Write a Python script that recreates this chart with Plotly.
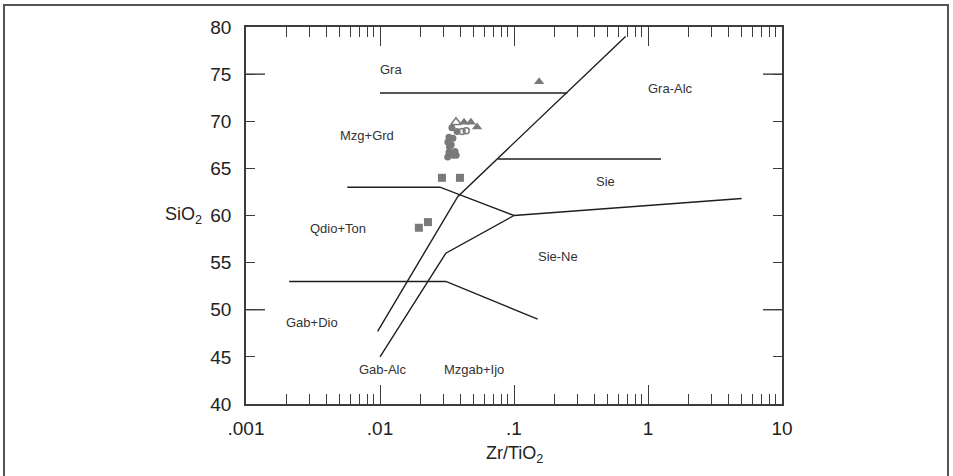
import plotly.graph_objects as go
import math

# ---- data ----
circle_x = [0.0344, 0.0376, 0.0327, 0.0350, 0.0321, 0.0330, 0.0327, 0.0363, 0.0350, 0.0370, 0.0320, 0.0340]
circle_y = [69.3, 68.9, 68.3, 68.2, 67.8, 67.3, 66.7, 66.8, 66.4, 66.4, 66.2, 67.5]
open_circle_x = [0.041, 0.044]
open_circle_y = [68.9, 69.0]
triangle_x = [0.0424, 0.0477, 0.053, 0.154]
triangle_y = [69.9, 69.9, 69.4, 74.2]
open_triangle_x = [0.0369]
open_triangle_y = [69.9]
square_x = [0.029, 0.0395, 0.0195, 0.0228]
square_y = [64.0, 64.0, 58.7, 59.3]

# field boundaries
gra_x = [0.01, 0.25]; gra_y = [73, 73]
main_x = [0.0096, 0.038, 0.68]; main_y = [47.7, 62, 79]
sie_x = [0.076, 1.25]; sie_y = [66, 66]
qdio_x = [0.0057, 0.028, 0.1, 5.0]; qdio_y = [63, 63, 60, 61.8]
alk_x = [0.01, 0.031, 0.1]; alk_y = [45, 56, 60]
gab_x = [0.0021, 0.031, 0.15]; gab_y = [53, 53, 49]

field_labels = ["Gra", "Gra-Alc", "Mzg+Grd", "Sie", "Qdio+Ton", "Sie-Ne", "Gab+Dio", "Gab-Alc", "Mzgab+Ijo"]
field_x = [0.0121, 1.48, 0.0080, 0.478, 0.0049, 0.213, 0.00311, 0.0105, 0.0506]
field_y = [75.5, 73.5, 68.5, 63.6, 58.6, 55.6, 48.6, 43.7, 43.7]

x_major = [0.001, 0.01, 0.1, 1, 10]
x_major_text = [".001", ".01", ".1", "1", "10"]
x_minor = [m * d for d in [0.001, 0.01, 0.1, 1] for m in range(2, 10)]
y_ticks = [40, 45, 50, 55, 60, 65, 70, 75, 80]
y_long = [50, 75]

MARK = "#7a7a7a"
LINE = "#1e1e1e"
AX = "#3c3c3c"
FONT = "Liberation Sans, Arial, sans-serif"
PLOT_W = 536
LONG_TICK = 19

fig = go.Figure()

for xs, ys in [(gra_x, gra_y), (main_x, main_y), (sie_x, sie_y), (qdio_x, qdio_y), (alk_x, alk_y), (gab_x, gab_y)]:
    fig.add_trace(go.Scatter(x=xs, y=ys, mode="lines", line=dict(color=LINE, width=1.4),
                             hoverinfo="skip", showlegend=False))

fig.add_trace(go.Scatter(x=square_x, y=square_y, mode="markers",
                         marker=dict(symbol="square", size=8, color=MARK), showlegend=False))
fig.add_trace(go.Scatter(x=circle_x, y=circle_y, mode="markers",
                         marker=dict(symbol="circle", size=7, color=MARK), showlegend=False))
fig.add_trace(go.Scatter(x=open_circle_x, y=open_circle_y, mode="markers",
                         marker=dict(symbol="circle-open", size=6, color=MARK, line=dict(width=1.5)), showlegend=False))
fig.add_trace(go.Scatter(x=triangle_x, y=triangle_y, mode="markers",
                         marker=dict(symbol="triangle-up", size=9, color=MARK), showlegend=False))
fig.add_trace(go.Scatter(x=open_triangle_x, y=open_triangle_y, mode="markers",
                         marker=dict(symbol="triangle-up-open", size=9, color=MARK, line=dict(width=1.5)), showlegend=False))

for t, xv, yv in zip(field_labels, field_x, field_y):
    fig.add_annotation(x=math.log10(xv), y=yv, text=t, showarrow=False, xanchor="center", yanchor="middle",
                       font=dict(family=FONT, size=13, color="#333333"))

fig.add_annotation(xref="paper", yref="y", x=-0.078, y=60, xanchor="right", yanchor="middle",
                   text="SiO<sub>2</sub>", showarrow=False,
                   font=dict(family=FONT, size=18, color="#222222"))
fig.add_annotation(xref="x", yref="paper", x=-1, y=-0.135, xanchor="center", yanchor="middle",
                   text="Zr/TiO<sub>2</sub>", showarrow=False,
                   font=dict(family=FONT, size=18, color="#222222"))

# longer inside ticks at selected y values (both sides)
tl = LONG_TICK / PLOT_W
for yv in y_long:
    for x0, x1 in [(0, tl), (1 - tl, 1)]:
        fig.add_shape(type="line", xref="paper", yref="y", x0=x0, x1=x1, y0=yv, y1=yv,
                      layer="above", line=dict(color=AX, width=1.4))

# outer frame
fig.add_shape(type="rect", xref="paper", yref="paper", x0=-0.4515, x1=1.3097, y0=-0.4, y1=1.0584,
              line=dict(color="#555555", width=2))

fig.update_layout(
    width=953, height=476,
    margin=dict(l=246, r=171, t=27, b=72),
    paper_bgcolor="white", plot_bgcolor="white",
    font=dict(family=FONT, color="#222222"),
    xaxis=dict(type="log", range=[-3, 1], tickmode="array", tickvals=x_major, ticktext=x_major_text,
               ticks="inside", ticklen=19, tickwidth=1.4, tickcolor=AX,
               minor=dict(tickmode="array", tickvals=x_minor, ticks="inside", ticklen=10,
                          tickwidth=1.2, tickcolor=AX, showgrid=False),
               showline=True, linecolor=AX, linewidth=1.6, mirror="ticks",
               showgrid=False, zeroline=False, tickfont=dict(size=19, family=FONT, color="#222222"),
               ticklabelstandoff=6),
    yaxis=dict(range=[40, 80], tickmode="array", tickvals=y_ticks,
               ticks="inside", ticklen=9, tickwidth=1.4, tickcolor=AX,
               showline=True, linecolor=AX, linewidth=1.6, mirror="ticks",
               showgrid=False, zeroline=False, tickfont=dict(size=19, family=FONT, color="#222222"),
               ticklabelstandoff=9),
)

fig.write_html("out.html", config={"displayModeBar": False},
               post_script="document.body.style.margin='0px';")
